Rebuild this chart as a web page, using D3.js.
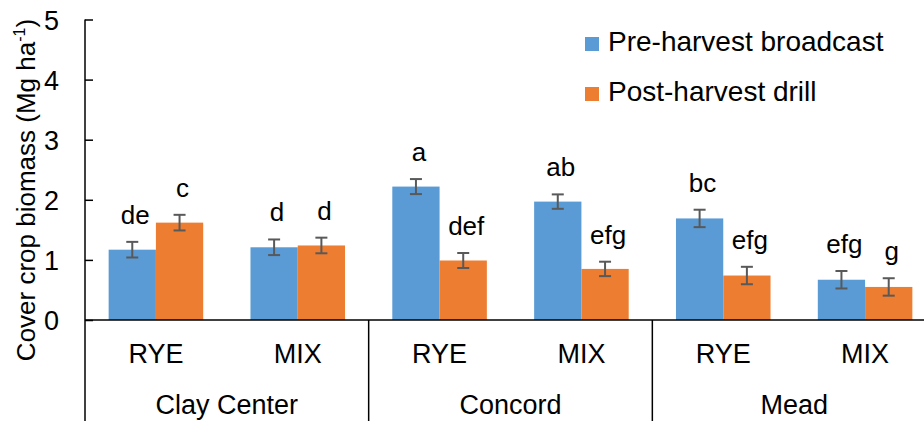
<!DOCTYPE html>
<html>
<head>
<meta charset="utf-8">
<script src="https://cdn.jsdelivr.net/npm/d3@7"></script>
<style>
  html, body { margin: 0; padding: 0; background: #fff; }
  svg { display: block; font-family: "Liberation Sans", Arial, sans-serif; }
</style>
</head>
<body>
<svg id="chart" width="924" height="421"></svg>
<script>
// Cover crop biomass by site, crop and seeding method
const sites = ["Clay Center", "Concord", "Mead"];
const crops = ["RYE", "MIX"];
const seriesNames = ["Pre-harvest broadcast", "Post-harvest drill"];
const seriesColors = ["#5B9BD5", "#ED7D31"];

// one entry per site × crop, in order
const preValues  = [1.17, 1.21, 2.22, 1.97, 1.69, 0.67];
const postValues = [1.62, 1.24, 0.99, 0.85, 0.74, 0.55];
const preErrors  = [0.13, 0.13, 0.125, 0.12, 0.145, 0.145];
const postErrors = [0.13, 0.13, 0.125, 0.12, 0.145, 0.145];
const preLetters  = ["de", "d", "a", "ab", "bc", "efg"];
const postLetters = ["c", "d", "def", "efg", "efg", "g"];
const yTicks = [0, 1, 2, 3, 4, 5];

const categories = [];
sites.forEach(s => crops.forEach(c => categories.push({ site: s, crop: c, key: s + "|" + c })));

const svg = d3.select("#chart");
const plotLeft = 85, plotRight = 936, plotTop = 19.5, plotBottom = 320, frameBottom = 421;

const x0 = d3.scaleBand().domain(categories.map(d => d.key)).range([plotLeft, plotRight]).padding(0);
const x1 = d3.scaleBand().domain([0, 1]).range([0, x0.bandwidth()]).paddingInner(0).paddingOuter(0.5);
const y = d3.scaleLinear().domain([0, 5]).range([plotBottom, plotTop]);

const rows = categories.map((c, i) => ({
  ...c,
  bars: [
    { s: 0, v: preValues[i],  e: preErrors[i],  lab: preLetters[i] },
    { s: 1, v: postValues[i], e: postErrors[i], lab: postLetters[i] }
  ]
}));

// bars
const grp = svg.append("g").selectAll("g").data(rows).join("g")
  .attr("transform", d => `translate(${x0(d.key)},0)`);

grp.selectAll("rect").data(d => d.bars).join("rect")
  .attr("x", d => x1(d.s))
  .attr("width", x1.bandwidth())
  .attr("y", d => y(d.v))
  .attr("height", d => y(0) - y(d.v))
  .attr("fill", d => seriesColors[d.s]);

// error bars
const eb = grp.selectAll("g.err").data(d => d.bars).join("g").attr("class", "err")
  .attr("stroke", "#595959").attr("stroke-width", 2).attr("fill", "none");
const cx = d => x1(d.s) + x1.bandwidth() / 2;
eb.append("line").attr("x1", cx).attr("x2", cx)
  .attr("y1", d => y(d.v + d.e)).attr("y2", d => y(d.v - d.e));
eb.append("line").attr("x1", d => cx(d) - 6).attr("x2", d => cx(d) + 6)
  .attr("y1", d => y(d.v + d.e)).attr("y2", d => y(d.v + d.e));
eb.append("line").attr("x1", d => cx(d) - 6).attr("x2", d => cx(d) + 6)
  .attr("y1", d => y(d.v - d.e)).attr("y2", d => y(d.v - d.e));

// significance letters
grp.selectAll("text.lab").data(d => d.bars).join("text").attr("class", "lab")
  .attr("x", d => cx(d) + 3)
  .attr("y", d => y(d.v + d.e) - 18)
  .attr("text-anchor", "middle")
  .attr("font-size", 26)
  .attr("fill", "#000")
  .text(d => d.lab);

// y axis
const yAxis = d3.axisLeft(y).tickValues(yTicks).tickFormat(d3.format("d"))
  .tickSizeInner(-8).tickSizeOuter(0).tickPadding(26);
const ya = svg.append("g").attr("transform", `translate(${plotLeft},0)`).call(yAxis);
ya.select(".domain").remove();
ya.selectAll(".tick line").attr("stroke", "#000").attr("stroke-width", 1.5);
ya.selectAll(".tick text").attr("font-size", 27).attr("font-family", "Liberation Sans, Arial, sans-serif")
  .attr("fill", "#000").attr("dy", "0.36em");

// axis frame lines
svg.append("line").attr("x1", plotLeft).attr("x2", plotLeft).attr("y1", plotTop).attr("y2", frameBottom)
  .attr("stroke", "#000").attr("stroke-width", 1.5);
svg.append("line").attr("x1", plotLeft).attr("x2", plotRight).attr("y1", y(0)).attr("y2", y(0))
  .attr("stroke", "#000").attr("stroke-width", 1.5);
sites.forEach((s, i) => {
  if (i === 0) return;
  const xs = x0(s + "|" + crops[0]);
  svg.append("line").attr("x1", xs).attr("x2", xs).attr("y1", y(0)).attr("y2", frameBottom)
    .attr("stroke", "#000").attr("stroke-width", 1.5);
});

// crop labels
svg.append("g").selectAll("text").data(categories).join("text")
  .attr("x", d => x0(d.key) + x0.bandwidth() / 2)
  .attr("y", 363)
  .attr("text-anchor", "middle")
  .attr("font-size", 27)
  .text(d => d.crop);

// site labels
svg.append("g").selectAll("text").data(sites).join("text")
  .attr("x", s => x0(s + "|" + crops[0]) + x0.bandwidth())
  .attr("y", 414)
  .attr("text-anchor", "middle")
  .attr("font-size", 27)
  .text(s => s);

// y axis title
const yt = svg.append("text")
  .attr("transform", "translate(35,190) rotate(-90)")
  .attr("text-anchor", "middle")
  .attr("font-size", 26);
yt.append("tspan").text("Cover crop biomass (Mg ha");
yt.append("tspan").attr("font-size", 16).attr("dy", -10).text("-1");
yt.append("tspan").attr("dy", 10).text(")");

// legend
const lg = svg.append("g").selectAll("g").data(seriesNames).join("g")
  .attr("transform", (d, i) => `translate(585,${51 + i * 50})`);
lg.append("rect").attr("x", 0).attr("y", -14).attr("width", 14).attr("height", 14)
  .attr("fill", (d, i) => seriesColors[i]);
lg.append("text").attr("x", 23).attr("y", 0).attr("font-size", 28).text(d => d);
</script>
</body>
</html>
